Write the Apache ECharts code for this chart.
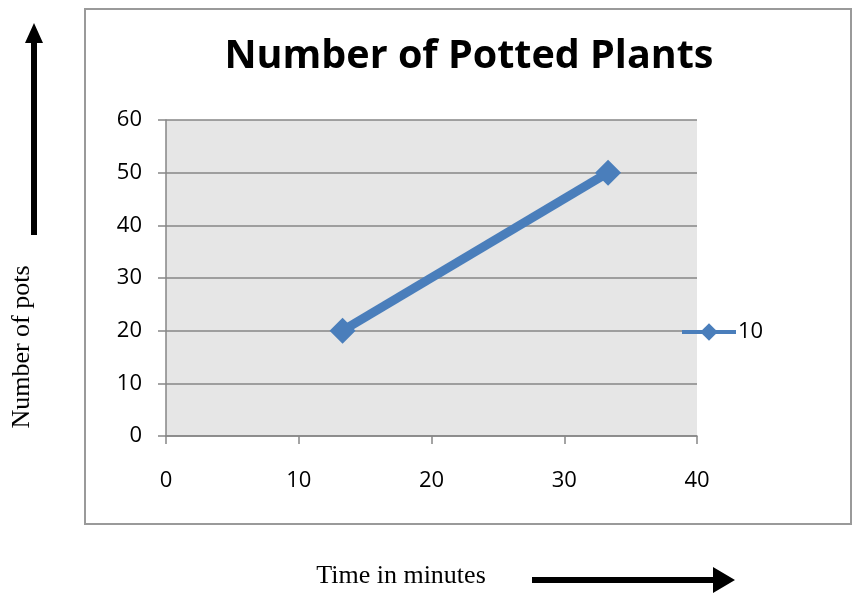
<!DOCTYPE html>
<html>
<head>
<meta charset="utf-8">
<script src="https://cdn.jsdelivr.net/npm/echarts@6/dist/echarts.min.js"></script>
<style>
html, body { margin: 0; padding: 0; background: #fff; }
#chart { width: 852px; height: 593px; }
</style>
</head>
<body>
<div id="chart"></div>
<script>
// data
var timeMinutes = [13.3, 33.3];
var potCount = [20, 50];
var seriesName = '10';
var xTicks = [0, 10, 20, 30, 40];
var yTicks = [0, 10, 20, 30, 40, 50, 60];

var blue = '#4A7EBB';
var gridGrey = '#868686';

var chart = echarts.init(document.getElementById('chart'));

chart.setOption({
	animation: false,
	title: {
		text: 'Number of Potted Plants',
		left: 469,
		textAlign: 'center',
		top: 37,
		padding: 0,
		textStyle: {
			fontFamily: 'Open Sans',
			fontWeight: 'bold',
			fontSize: 39.5,
			color: '#000'
		}
	},
	legend: {
		data: [seriesName],
		left: 680,
		top: 321,
		padding: 0,
		itemWidth: 54,
		itemHeight: 22,
		itemGap: 4,
		lineStyle: { width: 4 },
		textStyle: { fontFamily: 'Open Sans', fontSize: 22, color: '#000', padding: [0, 0, 0, -3] }
	},
	grid: {
		left: 166,
		top: 120,
		right: 155,
		bottom: 157,
		show: true,
		backgroundColor: '#E6E6E6',
		borderWidth: 0
	},
	xAxis: {
		type: 'value',
		min: xTicks[0],
		max: xTicks[xTicks.length - 1],
		interval: 10,
		axisLine: { show: true, lineStyle: { color: gridGrey, width: 1.5 } },
		axisTick: { show: true, inside: false, length: 8, lineStyle: { color: gridGrey, width: 1.5 } },
		splitLine: { show: false },
		axisLabel: { margin: 34, fontFamily: 'Open Sans', fontSize: 22, color: '#000' }
	},
	yAxis: {
		type: 'value',
		min: yTicks[0],
		max: yTicks[yTicks.length - 1],
		interval: 10,
		axisLine: { show: true, lineStyle: { color: gridGrey, width: 1.5 } },
		axisTick: { show: true, inside: false, length: 8, lineStyle: { color: gridGrey, width: 1.5 } },
		splitLine: { show: true, lineStyle: { color: gridGrey, width: 1.5 } },
		axisLabel: { margin: 24, fontFamily: 'Open Sans', fontSize: 22, color: '#000' }
	},
	series: [{
		name: seriesName,
		type: 'line',
		data: timeMinutes.map(function (t, i) { return [t, potCount[i]]; }),
		symbol: 'diamond',
		symbolSize: 26,
		lineStyle: { color: blue, width: 9 },
		itemStyle: { color: blue }
	}],
	graphic: [
		{
			type: 'rect',
			shape: { x: 85, y: 9, width: 766, height: 515 },
			style: { fill: 'none', stroke: '#9a9a9a', lineWidth: 2 },
			silent: true
		},
		{
			// upward arrow beside the y axis
			type: 'polygon',
			shape: { points: [[31, 235], [31, 43], [25, 43], [34, 23], [43, 43], [37, 43], [37, 235]] },
			style: { fill: '#000' }
		},
		{
			type: 'text',
			x: 22,
			y: 347,
			rotation: Math.PI / 2,
			style: {
				text: 'Number of pots',
				font: '26px "Liberation Serif"',
				fill: '#000',
				align: 'center',
				verticalAlign: 'middle'
			}
		},
		{
			type: 'text',
			x: 401,
			y: 576,
			style: {
				text: 'Time in minutes',
				font: '26px "Liberation Serif"',
				fill: '#000',
				align: 'center',
				verticalAlign: 'middle'
			}
		},
		{
			// rightward arrow after the x axis label
			type: 'polygon',
			shape: { points: [[532, 577], [713, 577], [713, 567], [735, 580], [713, 593], [713, 583], [532, 583]] },
			style: { fill: '#000' }
		}
	]
});
</script>
</body>
</html>
